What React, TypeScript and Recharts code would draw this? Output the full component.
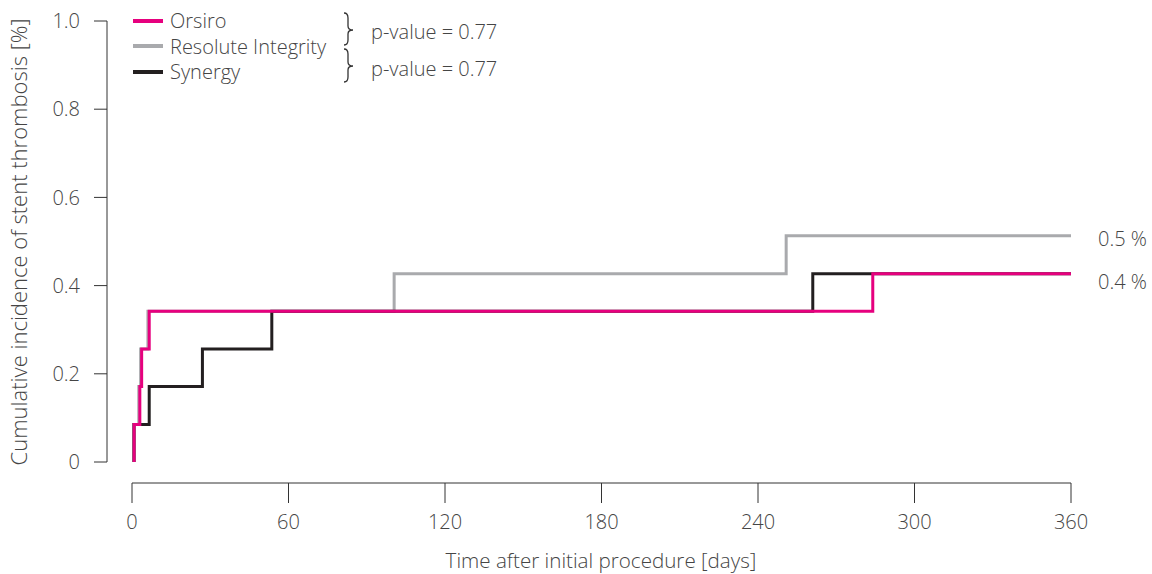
import React from "react";
import { LineChart, Line, XAxis, YAxis, Legend } from "recharts";

// ---- data ----
const orsiroDays = [0.8, 0.8, 3.0, 3.7, 6.6, 284, 360];
const orsiroRisk = [0, 0.085, 0.171, 0.256, 0.342, 0.427, 0.427];
const resoluteDays = [0.3, 0.3, 2.6, 3.3, 6.1, 100.5, 250.8, 360];
const resoluteRisk = [0, 0.085, 0.171, 0.256, 0.342, 0.427, 0.513, 0.513];
const synergyDays = [0.8, 0.8, 6.6, 27.0, 53.6, 261, 360];
const synergyRisk = [0, 0.085, 0.171, 0.256, 0.342, 0.427, 0.427];
const seriesNames = ["Orsiro", "Resolute Integrity", "Synergy"];
const xTicks = [0, 60, 120, 180, 240, 300, 360];
const yTicks = [0, 0.2, 0.4, 0.6, 0.8, 1.0];
const pValues = ["p-value = 0.77", "p-value = 0.77"];
const endLabels = ["0.5 %", "0.4 %"];
const xTitle = "Time after initial procedure [days]";
const yTitle = "Cumulative incidence of stent thrombosis [%]";

const build = (t: number[], v: number[]) => t.map((d, i) => ({ t: d, v: v[i] }));
const orsiroData = build(orsiroDays, orsiroRisk);
const resoluteData = build(resoluteDays, resoluteRisk);
const synergyData = build(synergyDays, synergyRisk);

const PINK = "#e6007e";
const GREY = "#a9aaad";
const BLACK = "#231f20";
const AXIS = "#333333";
const TEXT = "#454545";
const FONT = "'Open Sans', sans-serif";
const FS = 20;
const FW = 300;

const endLabel = (text: string, n: number, dy: number) => (props: any) => {
  if (props.index !== n - 1) return null;
  return (
    <text x={props.x + 27} y={props.y + dy} fill={TEXT} fontFamily={FONT} fontSize={FS} fontWeight={FW} dominantBaseline="central">
      {text}
    </text>
  );
};

const brace = (x0: number, top: number, mid: number, bottom: number) => {
  const x1 = x0 + 4;
  const x2 = x0 + 9;
  return `M${x0},${top} Q${x1},${top} ${x1},${top + 5} L${x1},${mid - 4} Q${x1},${mid} ${x2},${mid} Q${x1},${mid} ${x1},${mid + 4} L${x1},${bottom - 5} Q${x1},${bottom} ${x0},${bottom}`;
};

const LegendContent = (props: any) => {
  const payload = props.payload || [];
  const order = seriesNames.map((n) => payload.find((p: any) => p.value === n)).filter(Boolean);
  return (
    <div style={{ position: "relative", width: 520, height: 90, fontFamily: FONT, fontSize: FS, fontWeight: FW, color: TEXT }}>
      {order.map((p: any, i: number) => (
        <div key={p.value} style={{ position: "absolute", left: 133, top: 8 + i * 25.5, height: 25, lineHeight: "25px", display: "flex", alignItems: "center", whiteSpace: "nowrap" }}>
          <div style={{ width: 30, height: 4, background: p.color, marginRight: 7 }} />
          <span>{p.value}</span>
        </div>
      ))}
      <svg width={520} height={90} style={{ position: "absolute", left: 0, top: 0 }}>
        <path d={brace(344, 13, 30, 45)} fill="none" stroke={AXIS} strokeWidth={1.3} />
        <path d={brace(344, 49, 66, 82)} fill="none" stroke={AXIS} strokeWidth={1.3} />
        <text x={371} y={31} fill={TEXT} fontSize={FS} fontWeight={FW} fontFamily={FONT} dominantBaseline="central">{pValues[0]}</text>
        <text x={371} y={68} fill={TEXT} fontSize={FS} fontWeight={FW} fontFamily={FONT} dominantBaseline="central">{pValues[1]}</text>
      </svg>
    </div>
  );
};

export default function App() {
  return (
    <div style={{ position: "absolute", left: 0, top: 0, width: 1152, height: 574, background: "#fff" }}>
      <LineChart width={1152} height={574} margin={{ top: 21, right: 81, left: 25, bottom: 21 }}>
        <XAxis
          xAxisId="main"
          dataKey="t"
          type="number"
          domain={[0, 360]}
          ticks={xTicks}
          height={91}
          axisLine={{ stroke: AXIS, strokeWidth: 1 }}
          tickSize={20}
          tickMargin={12}
          tickLine={{ stroke: AXIS, strokeWidth: 1 }}
          tick={{ fill: TEXT, fontSize: FS, fontFamily: FONT, fontWeight: FW }}
          allowDataOverflow
          label={(p: any) => (
            <text x={601} y={560} textAnchor="middle" fill={TEXT} fontSize={20.6} fontFamily={FONT} fontWeight={FW} dominantBaseline="central">
              {xTitle}
            </text>
          )}
        />
        <XAxis xAxisId="aaa" dataKey="t" type="number" domain={[0, 360]} height={21} hide />
        <YAxis
          yAxisId="main"
          type="number"
          domain={[0, 1]}
          ticks={yTicks}
          width={107}
          axisLine={{ stroke: AXIS, strokeWidth: 1 }}
          tickSize={13}
          tickMargin={14}
          tickLine={{ stroke: AXIS, strokeWidth: 1 }}
          tick={{ fill: TEXT, fontSize: FS, fontFamily: FONT, fontWeight: FW }}
          tickFormatter={(v: number) => (v === 0 ? "0" : v.toFixed(1))}
          label={(p: any) => (
            <text x={18} y={242} transform={`rotate(-90, 18, 242)`} textAnchor="middle" fill={TEXT} fontSize={22} fontFamily={FONT} fontWeight={FW} dominantBaseline="central">
              {yTitle}
            </text>
          )}
        />
        <YAxis yAxisId="aaa" type="number" domain={[0, 1]} width={25} hide />
        <Legend
          layout="vertical"
          align="center"
          verticalAlign="middle"
          wrapperStyle={{ left: 0, top: 0, width: 520, height: 90 }}
          content={<LegendContent />}
        />
        <Line
          xAxisId="main"
          yAxisId="main"
          name={seriesNames[1]}
          data={resoluteData}
          dataKey="v"
          type="stepAfter"
          stroke={GREY}
          strokeWidth={3}
          dot={false}
          isAnimationActive={false}
          label={endLabel(endLabels[0], resoluteData.length, 3)}
        />
        <Line
          xAxisId="main"
          yAxisId="main"
          name={seriesNames[2]}
          data={synergyData}
          dataKey="v"
          type="stepAfter"
          stroke={BLACK}
          strokeWidth={3}
          dot={false}
          isAnimationActive={false}
        />
        <Line
          xAxisId="main"
          yAxisId="main"
          name={seriesNames[0]}
          data={orsiroData}
          dataKey="v"
          type="stepAfter"
          stroke={PINK}
          strokeWidth={3}
          dot={false}
          isAnimationActive={false}
          label={endLabel(endLabels[1], orsiroData.length, 8)}
        />
      </LineChart>
    </div>
  );
}
